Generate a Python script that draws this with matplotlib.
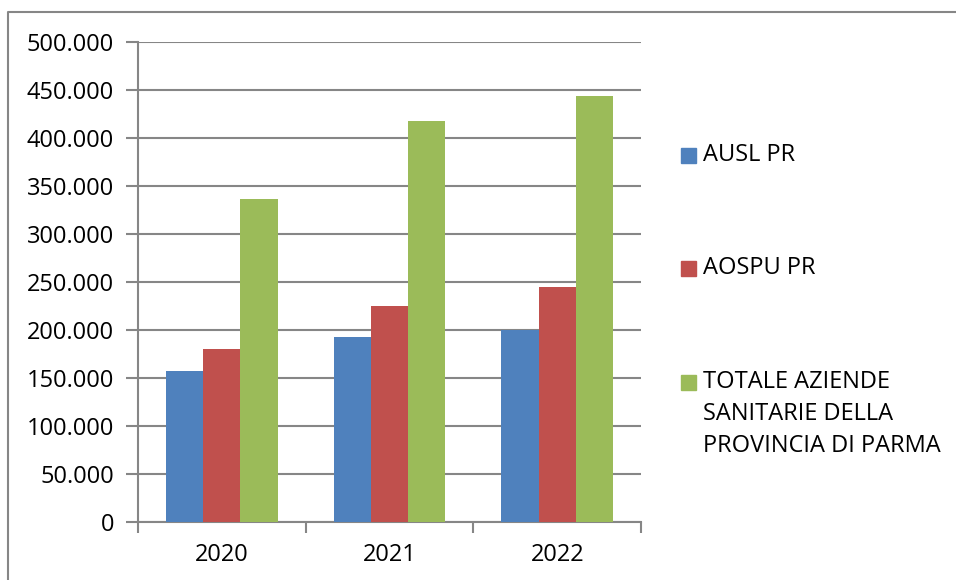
import matplotlib
matplotlib.use('Agg')
import matplotlib.pyplot as plt
import numpy as np
from matplotlib.ticker import FuncFormatter, MultipleLocator
from matplotlib.patches import Rectangle
from matplotlib.lines import Line2D

plt.rcParams['font.family'] = ['Open Sans', 'DejaVu Sans']

years = ['2020', '2021', '2022']
series = ['AUSL PR', 'AOSPU PR', 'TOTALE AZIENDE\nSANITARIE DELLA\nPROVINCIA DI PARMA']
ausl = [157300, 192400, 199600]
aospu = [179900, 225300, 245100]
totale = [336500, 417400, 444100]
colors = ['#4F81BD', '#C0504D', '#9BBB59']

W, H = 956, 580
fs = 17
fig = plt.figure(figsize=(W / 100, H / 100), dpi=100)
ax = fig.add_axes([137.7 / W, 58 / H, (641.3 - 137.7) / W, (522 - 42) / H])

x = np.arange(len(years))
bw = 1 / 4.5
for i, vals in enumerate([ausl, aospu, totale]):
    ax.bar(x + (i - 1) * bw, vals, width=bw, color=colors[i], zorder=3)

ax.set_xlim(-0.5, 2.5)
ax.set_ylim(0, 500000)
ax.yaxis.set_major_locator(MultipleLocator(50000))
ax.yaxis.set_major_formatter(FuncFormatter(lambda v, p: f'{int(v):,}'.replace(',', '.')))
ax.grid(axis='y', color='#868686', linewidth=1.5, zorder=0)

ax.set_xticks([-0.5, 0.5, 1.5, 2.5])
ax.set_xticklabels([])
ax.set_xticks(x, minor=True)
ax.set_xticklabels(years, minor=True)
ax.tick_params(axis='x', which='minor', length=0, pad=15, labelsize=fs)
ax.tick_params(axis='x', which='major', length=8, width=1.5, color='#868686')
ax.tick_params(axis='y', length=9, width=1.5, color='#868686', labelsize=fs, pad=8)

for s in ['top', 'right']:
    ax.spines[s].set_visible(False)
for s in ['left', 'bottom']:
    ax.spines[s].set_color('#868686')
    ax.spines[s].set_linewidth(1.5)

# legend
leg_y = [155, 268, 382]
for name, c, ly in zip(series, colors, leg_y):
    fig.patches.append(Rectangle((681 / W, 1 - (ly + 8) / H), 15 / W, 15 / H,
                                 transform=fig.transFigure, color=c))
    fig.text(703 / W, 1 - (ly - 12) / H, name, fontsize=fs, va='top', ha='left',
             linespacing=1.45)

# outer chart frame
fig.add_artist(Line2D([8 / W, 8 / W, 1], [0, 1 - 12 / H, 1 - 12 / H],
                      transform=fig.transFigure, color='#868686', linewidth=1.5))

fig.savefig('out.png', dpi=100)
